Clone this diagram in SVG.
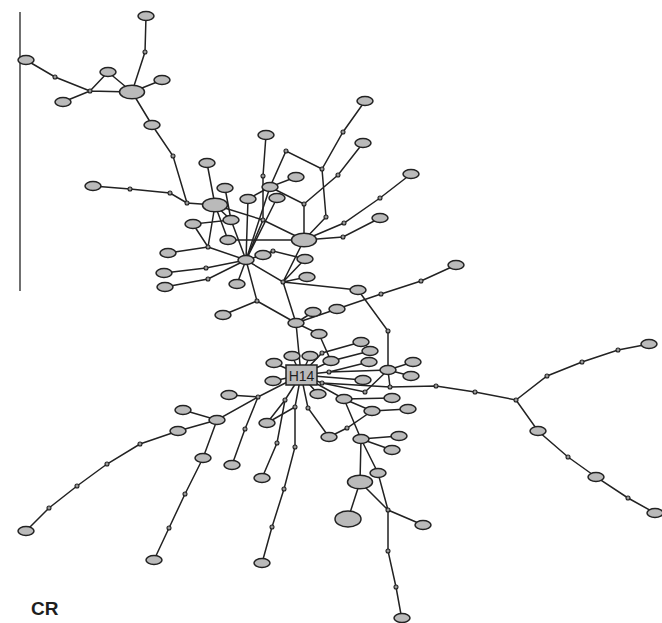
<svg xmlns="http://www.w3.org/2000/svg" xmlns:xlink="http://www.w3.org/1999/xlink" width="662" height="623" viewBox="0 0 662 623">
<style>
  .e { stroke: #222; stroke-width: 1.5; fill: none; stroke-linecap: round; }
  .h { fill: #bababa; stroke: #222; stroke-width: 1.5; }
  .m { fill: #999; stroke: #222; stroke-width: 1.1; }
  .lab { font-family: "Liberation Sans", Arial, sans-serif; fill: #1e1e1e; }
</style>
<defs>
  <ellipse id="hap" rx="8" ry="4.5" class="h"/>
  <ellipse id="big" rx="12.5" ry="6.8" class="h"/>
  <circle id="med" r="2" class="m"/>
</defs>
<rect width="662" height="623" fill="#fff"/>
<!-- scale bar -->
<line x1="20" y1="12" x2="20" y2="291" stroke="#222" stroke-width="1.3"/>

<!-- connectors -->
<g id="connectors" class="e">
  <path d="M146,16 L145,52 L132,92 M132,92 L108,72 M132,92 L162,80 M132,92 L90,91 L108,72 M90,91 L55,77 L26,60 M90,91 L63,102"/>
  <path d="M132,92 L152,125 L173,156 L187,203 L215,205 M93,186 L130,189 L170,193 L187,203"/>
  <path d="M207,163 L215,205 M225,188 L231,220 M215,205 L231,220 L193,224 L208,247 L215,205 M208,247 L168,253 M208,247 L246,260"/>
  <path d="M215,205 L263,220 L304,240 M228,240 L304,240 M215,205 L228,240 M266,135 L263,176 L263,220 L246,260"/>
  <path d="M365,101 L343,132 L322,169 L286,151 L270,187 L296,177 M270,187 L304,204 L304,240 M363,143 L338,175 L304,204 M322,169 L326,217 L304,240"/>
  <path d="M411,174 L380,198 L344,223 L304,240 M380,218 L343,237 L304,240"/>
  <path d="M246,260 L270,187 M246,260 L277,198 M246,260 L248,199 L270,187 M246,260 L231,220"/>
  <path d="M164,273 L206,268 L246,260 M165,287 L208,279 L246,260 M237,284 L246,260 M246,260 L263,255 L273,251 L305,259"/>
  <path d="M246,260 L283,282 L307,277 M283,282 L305,259 M283,282 L304,240 M283,282 L358,290 M283,282 L296,323"/>
  <path d="M246,260 L257,301 L223,315 M257,301 L296,323 L313,312 M296,323 L337,309 L381,294 L421,281 L456,265"/>
  <path d="M358,290 L388,331 L388,370 L390,387"/>
  <path d="M296,323 L301,375 M296,323 L319,334 L331,361 L370,351"/>
  <path d="M301,375 L274,363 M301,375 L292,356 M301,375 L310,356 M301,375 L322,353 L361,342 M301,375 L331,361"/>
  <path d="M301,375 L329,372 L369,362 M329,372 L388,370 L413,362 M388,370 L411,376 M301,375 L363,380 M301,375 L273,381"/>
  <path d="M301,375 L322,383 L390,387 L436,386 L475,392 L516,400 L547,376 L582,362 L618,350 L649,344 M516,400 L538,431 L568,457 L596,477 L628,498 L655,513"/>
  <path d="M322,383 L365,392 L388,370"/>
  <path d="M301,375 L318,394 M301,375 L344,399 L392,398 M344,399 L372,411 L408,409 M344,399 L361,439"/>
  <path d="M301,375 L308,408 L329,437 L347,428 L372,411"/>
  <path d="M301,375 L295,407 L267,423 M295,407 L295,447 L284,489 L272,527 L262,563"/>
  <path d="M301,375 L285,400 L267,423 M285,400 L277,443 L262,478"/>
  <path d="M301,375 L258,397 L229,395 M258,397 L217,420 L183,410 M217,420 L178,431 L140,444 L107,464 L77,486 L49,508 L26,531"/>
  <path d="M217,420 L203,458 L185,494 L169,528 L154,560 M258,397 L245,429 L232,465"/>
  <path d="M361,439 L399,436 M361,439 L392,450 M361,439 L378,473 L388,510 M361,439 L360,482 L348,519 M360,482 L388,510 L423,525 M388,510 L388,551 L396,587 L402,620"/>
</g>

<!-- haplotypes -->
<g id="hap01"><use xlink:href="#hap" x="146" y="16"/></g>
<g id="hap02"><use xlink:href="#hap" x="108" y="72"/></g>
<g id="hap03"><use xlink:href="#hap" x="162" y="80"/></g>
<g id="hap04"><use xlink:href="#hap" x="26" y="60"/></g>
<g id="hap05"><use xlink:href="#hap" x="63" y="102"/></g>
<g id="hap06"><use xlink:href="#hap" x="152" y="125"/></g>
<g id="hap07"><use xlink:href="#hap" x="93" y="186"/></g>
<g id="hap08"><use xlink:href="#hap" x="365" y="101"/></g>
<g id="hap09"><use xlink:href="#hap" x="266" y="135"/></g>
<g id="hap10"><use xlink:href="#hap" x="363" y="143"/></g>
<g id="hap11"><use xlink:href="#hap" x="207" y="163"/></g>
<g id="hap12"><use xlink:href="#hap" x="411" y="174"/></g>
<g id="hap13"><use xlink:href="#hap" x="296" y="177"/></g>
<g id="hap14"><use xlink:href="#hap" x="225" y="188"/></g>
<g id="hap15"><use xlink:href="#hap" x="270" y="187"/></g>
<g id="hap16"><use xlink:href="#hap" x="277" y="198"/></g>
<g id="hap17"><use xlink:href="#hap" x="248" y="199"/></g>
<g id="hap18"><use xlink:href="#hap" x="380" y="218"/></g>
<g id="hap19"><use xlink:href="#hap" x="231" y="220"/></g>
<g id="hap20"><use xlink:href="#hap" x="193" y="224"/></g>
<g id="hap21"><use xlink:href="#hap" x="228" y="240"/></g>
<g id="hap22"><use xlink:href="#hap" x="168" y="253"/></g>
<g id="hap23"><use xlink:href="#hap" x="263" y="255"/></g>
<g id="hap24"><use xlink:href="#hap" x="246" y="260"/></g>
<g id="hap25"><use xlink:href="#hap" x="305" y="259"/></g>
<g id="hap26"><use xlink:href="#hap" x="164" y="273"/></g>
<g id="hap27"><use xlink:href="#hap" x="307" y="277"/></g>
<g id="hap28"><use xlink:href="#hap" x="165" y="287"/></g>
<g id="hap29"><use xlink:href="#hap" x="237" y="284"/></g>
<g id="hap30"><use xlink:href="#hap" x="358" y="290"/></g>
<g id="hap31"><use xlink:href="#hap" x="456" y="265"/></g>
<g id="hap32"><use xlink:href="#hap" x="223" y="315"/></g>
<g id="hap33"><use xlink:href="#hap" x="313" y="312"/></g>
<g id="hap34"><use xlink:href="#hap" x="337" y="309"/></g>
<g id="hap35"><use xlink:href="#hap" x="296" y="323"/></g>
<g id="hap36"><use xlink:href="#hap" x="319" y="334"/></g>
<g id="hap37"><use xlink:href="#hap" x="361" y="342"/></g>
<g id="hap38"><use xlink:href="#hap" x="370" y="351"/></g>
<g id="hap39"><use xlink:href="#hap" x="274" y="363"/></g>
<g id="hap40"><use xlink:href="#hap" x="292" y="356"/></g>
<g id="hap41"><use xlink:href="#hap" x="310" y="356"/></g>
<g id="hap42"><use xlink:href="#hap" x="331" y="361"/></g>
<g id="hap43"><use xlink:href="#hap" x="369" y="362"/></g>
<g id="hap44"><use xlink:href="#hap" x="413" y="362"/></g>
<g id="hap45"><use xlink:href="#hap" x="388" y="370"/></g>
<g id="hap46"><use xlink:href="#hap" x="411" y="376"/></g>
<g id="hap47"><use xlink:href="#hap" x="363" y="380"/></g>
<g id="hap48"><use xlink:href="#hap" x="273" y="381"/></g>
<g id="hap49"><use xlink:href="#hap" x="318" y="394"/></g>
<g id="hap50"><use xlink:href="#hap" x="344" y="399"/></g>
<g id="hap51"><use xlink:href="#hap" x="392" y="398"/></g>
<g id="hap52"><use xlink:href="#hap" x="372" y="411"/></g>
<g id="hap53"><use xlink:href="#hap" x="408" y="409"/></g>
<g id="hap54"><use xlink:href="#hap" x="229" y="395"/></g>
<g id="hap55"><use xlink:href="#hap" x="183" y="410"/></g>
<g id="hap56"><use xlink:href="#hap" x="217" y="420"/></g>
<g id="hap57"><use xlink:href="#hap" x="178" y="431"/></g>
<g id="hap58"><use xlink:href="#hap" x="267" y="423"/></g>
<g id="hap59"><use xlink:href="#hap" x="329" y="437"/></g>
<g id="hap60"><use xlink:href="#hap" x="361" y="439"/></g>
<g id="hap61"><use xlink:href="#hap" x="399" y="436"/></g>
<g id="hap62"><use xlink:href="#hap" x="392" y="450"/></g>
<g id="hap63"><use xlink:href="#hap" x="203" y="458"/></g>
<g id="hap64"><use xlink:href="#hap" x="232" y="465"/></g>
<g id="hap65"><use xlink:href="#hap" x="262" y="478"/></g>
<g id="hap66"><use xlink:href="#hap" x="378" y="473"/></g>
<g id="hap67"><use xlink:href="#hap" x="423" y="525"/></g>
<g id="hap68"><use xlink:href="#hap" x="26" y="531"/></g>
<g id="hap69"><use xlink:href="#hap" x="154" y="560"/></g>
<g id="hap70"><use xlink:href="#hap" x="262" y="563"/></g>
<g id="hap71"><use xlink:href="#hap" x="402" y="618"/></g>
<g id="hap72"><use xlink:href="#hap" x="649" y="344"/></g>
<g id="hap73"><use xlink:href="#hap" x="538" y="431"/></g>
<g id="hap74"><use xlink:href="#hap" x="596" y="477"/></g>
<g id="hap75"><use xlink:href="#hap" x="655" y="513"/></g>
<g id="hapB1"><use xlink:href="#big" x="132" y="92"/></g>
<g id="hapB2"><use xlink:href="#big" x="215" y="205"/></g>
<g id="hapB3"><use xlink:href="#big" x="304" y="240"/></g>
<g id="hapB4"><use xlink:href="#big" x="360" y="482"/></g>
<g id="hapB5"><ellipse cx="348" cy="519" rx="13" ry="8" class="h"/></g>

<!-- central haplotype -->
<g id="H14">
  <rect x="286" y="365" width="31" height="20" class="h"/>
  <text x="301.5" y="380.5" text-anchor="middle" font-size="14" class="lab">H14</text>
</g>

<!-- median vectors -->
<g id="mv01"><use xlink:href="#med" x="145" y="52"/></g>
<g id="mv02"><use xlink:href="#med" x="55" y="77"/></g>
<g id="mv03"><use xlink:href="#med" x="90" y="91"/></g>
<g id="mv04"><use xlink:href="#med" x="173" y="156"/></g>
<g id="mv05"><use xlink:href="#med" x="130" y="189"/></g>
<g id="mv06"><use xlink:href="#med" x="170" y="193"/></g>
<g id="mv07"><use xlink:href="#med" x="187" y="203"/></g>
<g id="mv08"><use xlink:href="#med" x="343" y="132"/></g>
<g id="mv09"><use xlink:href="#med" x="286" y="151"/></g>
<g id="mv10"><use xlink:href="#med" x="322" y="169"/></g>
<g id="mv11"><use xlink:href="#med" x="338" y="175"/></g>
<g id="mv12"><use xlink:href="#med" x="263" y="176"/></g>
<g id="mv13"><use xlink:href="#med" x="380" y="198"/></g>
<g id="mv14"><use xlink:href="#med" x="304" y="204"/></g>
<g id="mv15"><use xlink:href="#med" x="326" y="217"/></g>
<g id="mv16"><use xlink:href="#med" x="263" y="220"/></g>
<g id="mv17"><use xlink:href="#med" x="344" y="223"/></g>
<g id="mv18"><use xlink:href="#med" x="343" y="237"/></g>
<g id="mv20"><use xlink:href="#med" x="208" y="247"/></g>
<g id="mv21"><use xlink:href="#med" x="273" y="251"/></g>
<g id="mv22"><use xlink:href="#med" x="206" y="268"/></g>
<g id="mv23"><use xlink:href="#med" x="208" y="279"/></g>
<g id="mv24"><use xlink:href="#med" x="283" y="282"/></g>
<g id="mv25"><use xlink:href="#med" x="381" y="294"/></g>
<g id="mv26"><use xlink:href="#med" x="421" y="281"/></g>
<g id="mv27"><use xlink:href="#med" x="257" y="301"/></g>
<g id="mv28"><use xlink:href="#med" x="388" y="331"/></g>
<g id="mv29"><use xlink:href="#med" x="322" y="353"/></g>
<g id="mv30"><use xlink:href="#med" x="329" y="372"/></g>
<g id="mv31"><use xlink:href="#med" x="322" y="383"/></g>
<g id="mv32"><use xlink:href="#med" x="390" y="387"/></g>
<g id="mv33"><use xlink:href="#med" x="365" y="392"/></g>
<g id="mv34"><use xlink:href="#med" x="436" y="386"/></g>
<g id="mv35"><use xlink:href="#med" x="475" y="392"/></g>
<g id="mv36"><use xlink:href="#med" x="516" y="400"/></g>
<g id="mv37"><use xlink:href="#med" x="547" y="376"/></g>
<g id="mv38"><use xlink:href="#med" x="582" y="362"/></g>
<g id="mv39"><use xlink:href="#med" x="618" y="350"/></g>
<g id="mv40"><use xlink:href="#med" x="568" y="457"/></g>
<g id="mv41"><use xlink:href="#med" x="628" y="498"/></g>
<g id="mv42"><use xlink:href="#med" x="258" y="397"/></g>
<g id="mv43"><use xlink:href="#med" x="285" y="400"/></g>
<g id="mv44"><use xlink:href="#med" x="295" y="407"/></g>
<g id="mv45"><use xlink:href="#med" x="308" y="408"/></g>
<g id="mv46"><use xlink:href="#med" x="245" y="429"/></g>
<g id="mv47"><use xlink:href="#med" x="140" y="444"/></g>
<g id="mv48"><use xlink:href="#med" x="107" y="464"/></g>
<g id="mv49"><use xlink:href="#med" x="77" y="486"/></g>
<g id="mv50"><use xlink:href="#med" x="49" y="508"/></g>
<g id="mv51"><use xlink:href="#med" x="185" y="494"/></g>
<g id="mv52"><use xlink:href="#med" x="169" y="528"/></g>
<g id="mv53"><use xlink:href="#med" x="277" y="443"/></g>
<g id="mv54"><use xlink:href="#med" x="295" y="447"/></g>
<g id="mv55"><use xlink:href="#med" x="284" y="489"/></g>
<g id="mv56"><use xlink:href="#med" x="272" y="527"/></g>
<g id="mv57"><use xlink:href="#med" x="347" y="428"/></g>
<g id="mv58"><use xlink:href="#med" x="388" y="510"/></g>
<g id="mv59"><use xlink:href="#med" x="388" y="551"/></g>
<g id="mv60"><use xlink:href="#med" x="396" y="587"/></g>

<text x="31" y="615" font-size="19" font-weight="bold" class="lab">CR</text>
</svg>
